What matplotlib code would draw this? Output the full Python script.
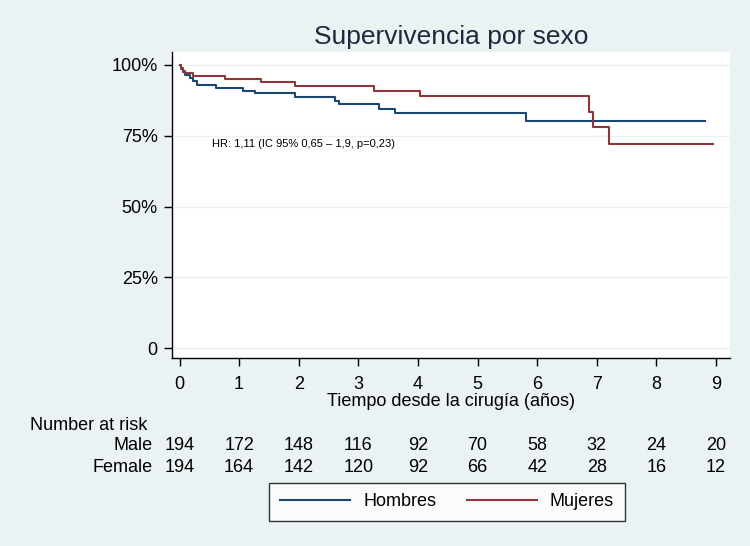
import matplotlib
matplotlib.use("Agg")
import matplotlib.pyplot as plt
from matplotlib.transforms import blended_transform_factory
from matplotlib.lines import Line2D

plt.rcParams['font.family'] = ['Liberation Sans Narrow', 'Liberation Sans', 'DejaVu Sans']

# Kaplan-Meier step data (time in years, survival in %)
male_t = [0, 0.03, 0.06, 0.10, 0.18, 0.22, 0.30, 0.62, 1.07, 1.27, 1.94, 2.60, 2.67, 3.34, 3.61, 5.81, 8.82]
male_s = [100, 98.5, 97.5, 96.5, 95.3, 94.2, 93.0, 92.0, 90.9, 90.0, 88.7, 87.4, 86.2, 84.6, 83.0, 80.2, 80.2]
female_t = [0, 0.03, 0.06, 0.10, 0.22, 0.77, 1.37, 1.93, 3.27, 4.04, 6.87, 6.93, 7.21, 8.95]
female_s = [100, 99.0, 98.0, 97.3, 96.2, 95.0, 93.9, 92.7, 90.8, 88.9, 83.5, 78.0, 72.0, 72.0]

risk_times = [0, 1, 2, 3, 4, 5, 6, 7, 8, 9]
male_risk = [194, 172, 148, 116, 92, 70, 58, 32, 24, 20]
female_risk = [194, 164, 142, 120, 92, 66, 42, 28, 16, 12]

yticks = [0, 25, 50, 75, 100]
ytick_labels = ["0", "25%", "50%", "75%", "100%"]

bg = "#EAF2F3"
navy = "#1a476f"
maroon = "#90353b"

fig = plt.figure(figsize=(7.5, 5.46), dpi=100, facecolor=bg)
ax = fig.add_axes([0.229, 0.344, 0.744, 0.561])
ax.set_facecolor("white")

ax.step(male_t, male_s, where="post", color=navy, lw=1.5, label="Hombres")
ax.step(female_t, female_s, where="post", color=maroon, lw=1.5, label="Mujeres")

ax.set_xlim(-0.13, 9.23)
ax.set_ylim(-3.5, 104.6)
ax.set_yticks(yticks)
ax.set_yticklabels(ytick_labels)
ax.set_xticks(risk_times)
for y in yticks:
    ax.axhline(y, color=bg, lw=1.0, zorder=0)

for s in ["top", "right"]:
    ax.spines[s].set_visible(False)
for s in ["left", "bottom"]:
    ax.spines[s].set_color("black")
    ax.spines[s].set_linewidth(1.0)
ax.tick_params(axis="both", labelsize=13, length=6, width=1, color="black", labelcolor="black", pad=4)
ax.tick_params(axis="x", pad=7)

ax.set_xlabel("Tiempo desde la cirugía (años)", fontsize=13, labelpad=0)
ax.set_title("Supervivencia por sexo", fontsize=19, color="#1c2a3c", pad=6)

ax.text(0.54, 72, "HR: 1,11 (IC 95% 0,65 \u2013 1,9, p=0,23)", fontsize=8,
        family=['Liberation Sans', 'DejaVu Sans'], va="center", ha="left")

tr = blended_transform_factory(ax.transData, fig.transFigure)
fig.text(30/750, 1 - 425/546, "Number at risk", fontsize=13, va="center", ha="left")
fig.text(153/750, 1 - 446/546, "Male", fontsize=13, va="center", ha="right")
fig.text(153/750, 1 - 467/546, "Female", fontsize=13, va="center", ha="right")
for t, m, f in zip(risk_times, male_risk, female_risk):
    ax.text(t, 1 - 446/546, str(m), transform=tr, fontsize=13, ha="center", va="center", clip_on=False)
    ax.text(t, 1 - 467/546, str(f), transform=tr, fontsize=13, ha="center", va="center", clip_on=False)

handles = [Line2D([], [], color=navy, lw=1.5), Line2D([], [], color=maroon, lw=1.5)]
leg = fig.legend(handles, ["Hombres", "Mujeres"], loc="center", bbox_to_anchor=(447/750, 1 - 502/546),
                 ncol=2, frameon=True, fancybox=False, edgecolor="black", fontsize=13,
                 handlelength=3.9, columnspacing=1.7, handletextpad=0.7, borderpad=0.6,
                 borderaxespad=0)
leg.get_frame().set_linewidth(1.0)

fig.savefig("out.png", dpi=100, facecolor=bg)
